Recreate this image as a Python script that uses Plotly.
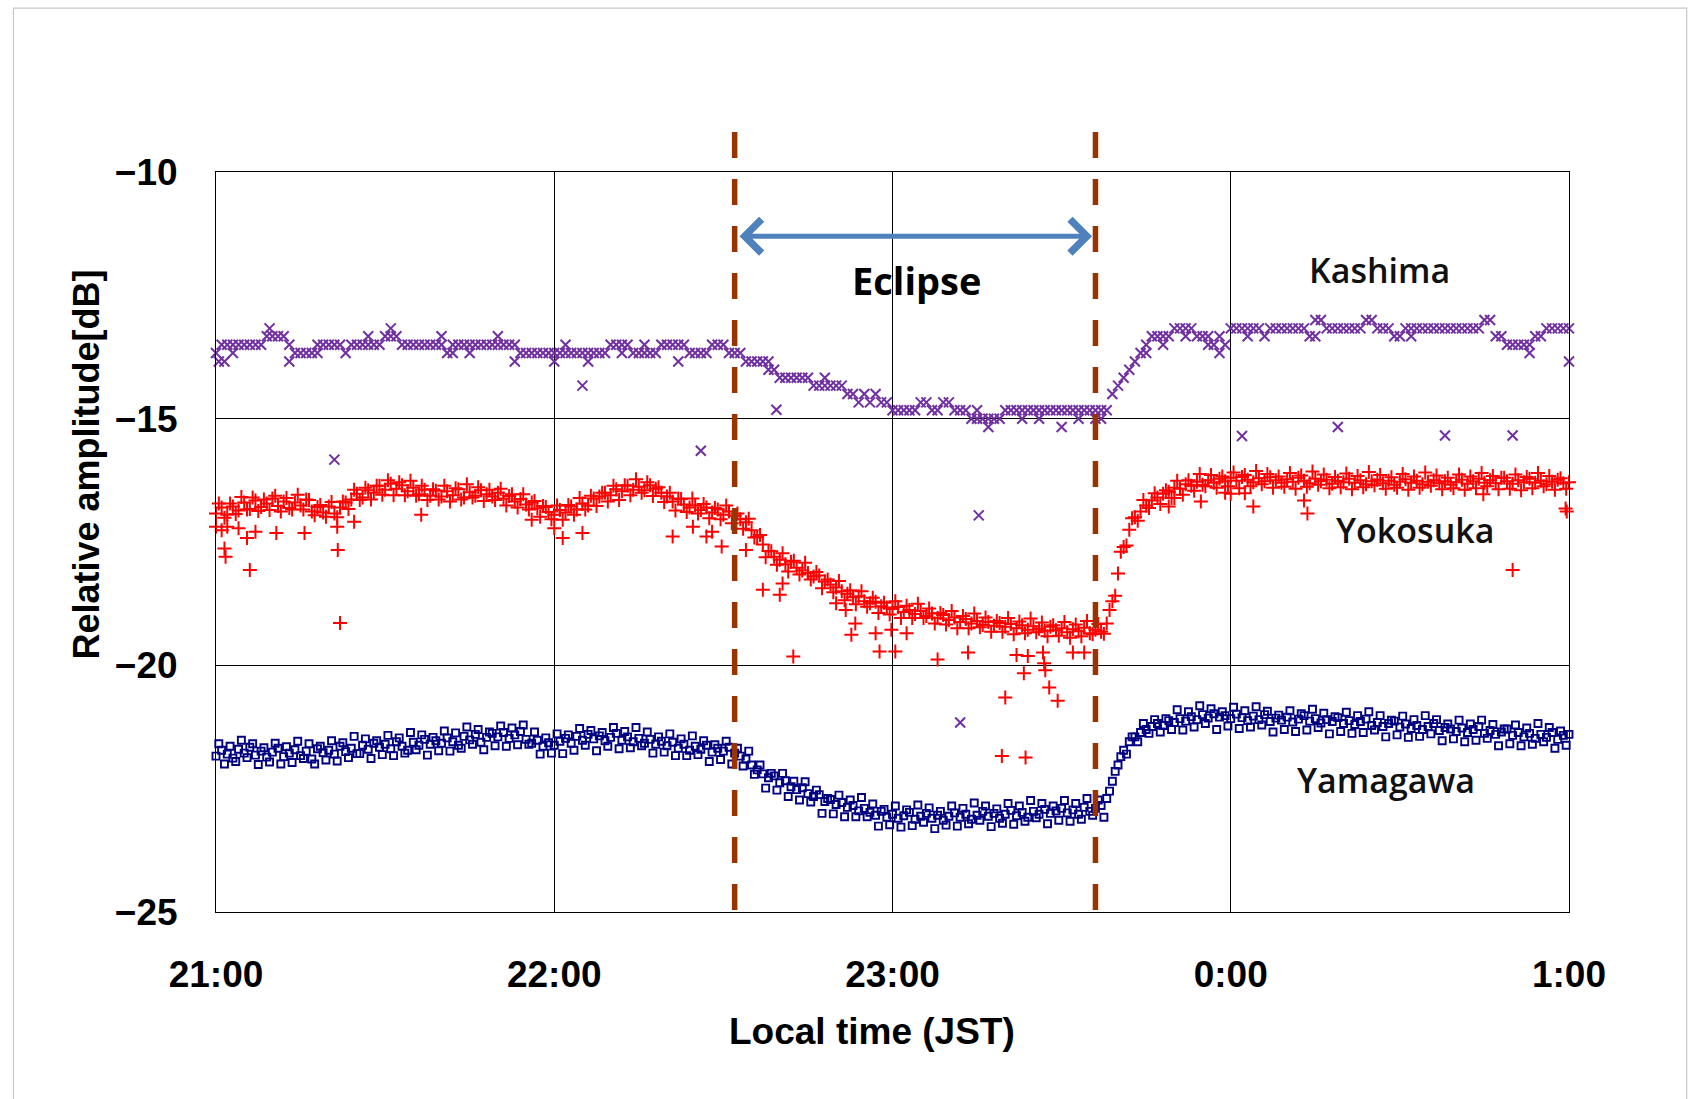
import plotly.graph_objects as go

# ---------------- data (minutes after 21:00 JST, relative amplitude dB) ----------------
minutes = list(range(0, 241))
half_minutes = [m + 0.5 for m in range(0, 240)]

kashima = [
    -13.67, -13.50, -13.50, -13.50, -13.50, -13.50, -13.50, -13.50, -13.50, -13.33,
    -13.33, -13.33, -13.33, -13.50, -13.67, -13.67, -13.67, -13.67, -13.67, -13.50,
    -13.50, -13.50, -13.50, -13.67, -13.50, -13.50, -13.50, -13.50, -13.50, -13.50,
    -13.33, -13.33, -13.33, -13.50, -13.50, -13.50, -13.50, -13.50, -13.50, -13.50,
    -13.50, -13.67, -13.50, -13.50, -13.50, -13.50, -13.50, -13.50, -13.50, -13.50,
    -13.50, -13.50, -13.50, -13.50, -13.67, -13.67, -13.67, -13.67, -13.67, -13.67,
    -13.67, -13.67, -13.67, -13.67, -13.67, -13.67, -13.67, -13.67, -13.67, -13.67,
    -13.50, -13.50, -13.50, -13.50, -13.67, -13.67, -13.67, -13.67, -13.67, -13.50,
    -13.50, -13.50, -13.50, -13.50, -13.67, -13.67, -13.67, -13.67, -13.50, -13.50,
    -13.50, -13.67, -13.67, -13.67, -13.84, -13.84, -13.84, -13.84, -13.84, -14.01,
    -14.17, -14.17, -14.17, -14.17, -14.17, -14.17, -14.33, -14.33, -14.33, -14.33,
    -14.33, -14.33, -14.50, -14.50, -14.67, -14.50, -14.67, -14.50, -14.67, -14.67,
    -14.83, -14.83, -14.83, -14.83, -14.83, -14.67, -14.67, -14.83, -14.83, -14.67,
    -14.67, -14.83, -14.83, -14.83, -15.00, -15.00, -15.00, -15.00, -15.00, -15.00,
    -14.83, -14.83, -14.83, -14.83, -14.83, -14.83, -14.83, -14.83, -14.83, -14.83,
    -14.83, -14.83, -14.83, -14.83, -14.83, -14.83, -14.83, -14.83, -14.83, -14.50,
    -14.33, -14.17, -14.01, -13.84, -13.67, -13.50, -13.33, -13.33, -13.33, -13.33,
    -13.17, -13.17, -13.17, -13.17, -13.33, -13.33, -13.33, -13.50, -13.33, -13.50,
    -13.17, -13.17, -13.17, -13.17, -13.17, -13.17, -13.33, -13.17, -13.17, -13.17,
    -13.17, -13.17, -13.17, -13.17, -13.33, -13.00, -13.00, -13.17, -13.17, -13.17,
    -13.17, -13.17, -13.17, -13.17, -13.00, -13.00, -13.17, -13.17, -13.17, -13.33,
    -13.33, -13.17, -13.17, -13.17, -13.17, -13.17, -13.17, -13.17, -13.17, -13.17,
    -13.17, -13.17, -13.17, -13.17, -13.17, -13.00, -13.00, -13.33, -13.33, -13.50,
    -13.50, -13.50, -13.50, -13.50, -13.33, -13.33, -13.17, -13.17, -13.17, -13.17,
    -13.17,
]
kashima_extra_t = [0.5, 1.5, 3, 9.5, 13, 18, 27, 31, 40, 42, 45, 50, 53, 60, 62, 66, 72, 76, 82,
                   98, 108, 135, 137, 143, 146, 150, 153, 156, 157, 165, 168, 172, 176, 178, 183,
                   195, 212, 233,
                   21, 65, 86, 99.4, 135.3, 182, 199, 218, 230, 132, 240]
kashima_extra_v = [-13.84, -13.84, -13.67, -13.17, -13.84, -13.50, -13.33, -13.17, -13.33, -13.67,
                   -13.67, -13.33, -13.84, -13.84, -13.50, -13.84, -13.67, -13.50, -13.84,
                   -14.01, -14.17, -14.83, -15.17, -15.00, -15.00, -15.17, -15.00, -15.00, -15.00,
                   -13.67, -13.50, -13.33, -13.50, -13.67, -13.33,
                   -13.33, -13.33, -13.67,
                   -15.83, -14.33, -15.65, -14.82, -16.96, -15.35, -15.17, -15.34, -15.34, -21.16, -13.84]

yokosuka = [
    -16.92, -16.80, -16.95, -16.78, -16.86, -16.70, -16.83, -16.66, -16.79, -16.72,
    -16.62, -16.77, -16.68, -16.81, -16.70, -16.76, -16.64, -16.88, -16.79, -16.90,
    -16.78, -16.92, -16.80, -16.70, -16.64, -16.52, -16.60, -16.45, -16.50, -16.36,
    -16.44, -16.32, -16.42, -16.35, -16.47, -16.40, -16.53, -16.44, -16.56, -16.46,
    -16.58, -16.47, -16.55, -16.43, -16.60, -16.49, -16.56, -16.45, -16.53, -16.58,
    -16.50, -16.62, -16.57, -16.68, -16.63, -16.74, -16.70, -16.82, -16.77, -16.89,
    -16.95, -16.85, -16.90, -16.78, -16.84, -16.72, -16.76, -16.62, -16.58, -16.50,
    -16.55, -16.43, -16.47, -16.36, -16.44, -16.38, -16.45, -16.35, -16.42, -16.50,
    -16.58, -16.68, -16.62, -16.74, -16.80, -16.76, -16.85, -16.80, -16.90, -16.84,
    -16.95, -16.88, -16.97, -17.04, -17.10, -17.26, -17.40, -17.55, -17.68, -17.80,
    -17.86, -17.95, -17.90, -18.02, -18.08, -18.13, -18.20, -18.18, -18.30, -18.36,
    -18.42, -18.50, -18.55, -18.62, -18.60, -18.70, -18.74, -18.71, -18.80, -18.83,
    -18.86, -18.82, -18.92, -18.88, -18.96, -18.90, -19.00, -18.95, -19.04, -18.98,
    -19.08, -19.03, -19.12, -19.06, -19.15, -19.10, -19.18, -19.12, -19.20, -19.14,
    -19.22, -19.16, -19.25, -19.19, -19.28, -19.21, -19.26, -19.30, -19.22, -19.29,
    -19.25, -19.33, -19.27, -19.31, -19.24, -19.35, -19.28, -19.32, -19.15, -18.70,
    -18.14, -17.60, -17.25, -17.00, -16.88, -16.76, -16.66, -16.60, -16.52, -16.48,
    -16.40, -16.42, -16.33, -16.36, -16.28, -16.34, -16.25, -16.30, -16.22, -16.27,
    -16.20, -16.26, -16.18, -16.24, -16.29, -16.21, -16.27, -16.19, -16.25, -16.30,
    -16.23, -16.28, -16.20, -16.26, -16.31, -16.22, -16.27, -16.24, -16.32, -16.26,
    -16.29, -16.22, -16.30, -16.25, -16.33, -16.27, -16.24, -16.31, -16.26, -16.34,
    -16.28, -16.23, -16.30, -16.26, -16.33, -16.28, -16.25, -16.31, -16.27, -16.34,
    -16.29, -16.24, -16.32, -16.27, -16.22, -16.30, -16.25, -16.31, -16.20, -16.27,
    -16.32, -16.25, -16.29, -16.22, -16.30, -16.26, -16.33, -16.28, -16.24, -16.31,
    -16.29,
]
# readings taken half a minute later (spread of the band)
yokosuka_half = [
    -16.72, -17.01, -16.72, -16.93, -16.59, -16.84, -16.60, -16.87, -16.64, -16.85,
    -16.56, -16.88, -16.61, -16.84, -16.54, -16.84, -16.65, -16.96, -16.75, -16.99,
    -16.69, -17.00, -16.68, -16.83, -16.44, -16.65, -16.40, -16.64, -16.36, -16.54,
    -16.25, -16.55, -16.29, -16.55, -16.26, -16.56, -16.36, -16.65, -16.43, -16.64,
    -16.36, -16.68, -16.41, -16.64, -16.33, -16.60, -16.39, -16.67, -16.44, -16.65,
    -16.42, -16.76, -16.53, -16.80, -16.53, -16.84, -16.67, -16.99, -16.79, -17.04,
    -16.76, -17.05, -16.75, -16.95, -16.61, -16.84, -16.56, -16.77, -16.50, -16.68,
    -16.36, -16.65, -16.35, -16.55, -16.23, -16.50, -16.29, -16.57, -16.39, -16.69,
    -16.50, -16.86, -16.63, -16.89, -16.62, -16.92, -16.73, -17.02, -16.81, -17.04,
    -16.76, -17.12, -16.92, -17.23, -17.03, -17.41, -17.36, -17.81, -17.69, -17.96,
    -17.73, -18.10, -17.88, -18.16, -17.92, -18.26, -18.11, -18.44, -18.26, -18.52,
    -18.29, -18.68, -18.48, -18.76, -18.50, -18.81, -18.63, -18.94, -18.73, -18.97,
    -18.70, -19.04, -18.79, -19.04, -18.75, -19.04, -18.85, -19.15, -18.94, -19.17,
    -18.90, -19.25, -19.00, -19.25, -18.95, -19.23, -19.03, -19.32, -19.10, -19.32,
    -19.04, -19.37, -19.11, -19.35, -19.05, -19.33, -19.13, -19.41, -19.19, -19.40,
    -19.12, -19.44, -19.17, -19.41, -19.10, -19.37, -19.16, -19.36, -18.88, -18.59,
    -17.70, -17.57, -17.02, -17.07, -16.65, -16.81, -16.51, -16.73, -16.45, -16.61,
    -16.26, -16.54, -16.25, -16.46, -16.12, -16.37, -16.14, -16.40, -16.17, -16.37,
    -16.09, -16.41, -16.14, -16.37, -16.06, -16.33, -16.12, -16.40, -16.17, -16.38,
    -16.10, -16.42, -16.15, -16.38, -16.07, -16.34, -16.13, -16.41, -16.18, -16.39,
    -16.11, -16.43, -16.16, -16.39, -16.08, -16.35, -16.14, -16.42, -16.19, -16.40,
    -16.12, -16.44, -16.17, -16.40, -16.09, -16.36, -16.15, -16.43, -16.20, -16.41,
    -16.13, -16.44, -16.17, -16.41, -16.10, -16.37, -16.16, -16.43, -16.20, -16.42,
    -16.13, -16.45, -16.18, -16.41, -16.10, -16.37, -16.16, -16.44, -16.21, -16.42,
]
yokosuka_extra_t = [0, 1, 1.5, 1.7, 2, 4, 5.5, 6, 7, 10.7, 15.7, 21.5, 21.6, 22, 24.5, 36.4, 56,
                    60, 61.5, 65, 81, 84.6, 87, 88, 89.7, 94, 97, 100, 100.5, 102.4, 110, 111.7,
                    112.7, 113.4, 117, 117.7, 119.8, 120.5, 122.5, 128, 133.4, 139.4, 140, 142,
                    143.3, 143.6, 144, 146.7, 146.9, 147.1, 147.8, 149.3, 152, 154,
                    169, 170, 174.7, 179, 180, 182.5, 184, 193, 193.6, 224.8, 230, 239.4, 239.6]
yokosuka_extra_v = [-17.19, -17.26, -17.63, -17.80, -17.19, -17.22, -17.42, -18.07, -17.29, -17.32,
                    -17.32, -17.19, -17.66, -19.14, -17.09, -16.95, -17.05,
                    -17.22, -17.42, -17.32, -17.39, -17.19, -17.39, -17.29, -17.59, -17.66, -18.47,
                    -18.57, -18.34, -19.82, -18.74, -18.88,
                    -19.38, -19.15, -19.35, -19.72, -19.28, -19.72, -19.35, -19.88, -19.74, -21.84,
                    -20.65, -19.79, -20.16, -21.87, -19.81, -19.74, -19.96, -20.10, -20.45, -20.72,
                    -19.74, -19.74,
                    -16.78, -16.61, -16.68, -16.50, -16.52, -16.51, -16.78, -16.66, -16.92, -16.53,
                    -18.07, -16.82, -16.88]

yamagawa = [
    -21.84, -21.72, -21.80, -21.88, -21.70, -21.78, -21.66, -21.82, -21.74, -21.86,
    -21.76, -21.68, -21.85, -21.78, -21.71, -21.83, -21.74, -21.90, -21.69, -21.77,
    -21.72, -21.80, -21.64, -21.75, -21.68, -21.79, -21.62, -21.70, -21.58, -21.66,
    -21.60, -21.69, -21.55, -21.64, -21.72, -21.56, -21.62, -21.50, -21.60, -21.53,
    -21.58, -21.47, -21.55, -21.62, -21.44, -21.51, -21.40, -21.56, -21.46, -21.38,
    -21.45, -21.36, -21.48, -21.41, -21.34, -21.50, -21.58, -21.52, -21.64, -21.57,
    -21.62, -21.54, -21.48, -21.58, -21.44, -21.52, -21.40, -21.49, -21.43, -21.53,
    -21.46, -21.38, -21.52, -21.45, -21.55, -21.48, -21.58, -21.50, -21.60, -21.54,
    -21.63, -21.56, -21.68, -21.60, -21.72, -21.64, -21.70, -21.62, -21.76, -21.68,
    -21.74, -21.66, -21.78, -21.84, -21.90, -22.02, -22.12, -22.20, -22.28, -22.24,
    -22.38, -22.34, -22.46, -22.52, -22.48, -22.60, -22.66, -22.62, -22.76, -22.72,
    -22.82, -22.78, -22.88, -22.84, -22.95, -22.90, -22.98, -23.04, -22.96, -23.08,
    -23.02, -23.10, -23.05, -22.98, -23.12, -23.06, -23.00, -23.10, -23.04, -23.14,
    -23.06, -22.99, -23.08, -23.02, -23.12, -23.04, -22.96, -23.06, -23.00, -23.10,
    -23.02, -22.94, -23.05, -22.98, -23.08, -22.96, -23.02, -22.92, -23.00, -22.95,
    -22.90, -22.99, -22.93, -23.02, -22.88, -22.96, -22.90, -22.84, -22.70, -22.35,
    -22.02, -21.72, -21.55, -21.45, -21.36, -21.30, -21.24, -21.18, -21.22, -21.12,
    -21.16, -21.08, -21.13, -21.04, -21.10, -21.00, -21.07, -20.98, -21.05, -21.02,
    -21.08, -20.99, -21.06, -21.12, -21.03, -21.10, -21.00, -21.14, -21.07, -21.11,
    -21.05, -21.15, -21.09, -21.02, -21.13, -21.08, -21.17, -21.10, -21.14, -21.06,
    -21.18, -21.12, -21.20, -21.14, -21.09, -21.22, -21.16, -21.24, -21.18, -21.13,
    -21.25, -21.19, -21.28, -21.22, -21.30, -21.24, -21.18, -21.32, -21.26, -21.29,
    -21.34, -21.27, -21.36, -21.30, -21.24, -21.38, -21.32, -21.40, -21.35, -21.29,
    -21.42, -21.36, -21.45, -21.38, -21.48, -21.40, -21.46, -21.36, -21.50, -21.42,
    -21.40,
]
yamagawa_half = [
    -21.59, -22.00, -21.64, -21.95, -21.52, -21.87, -21.59, -22.01, -21.67, -21.96,
    -21.58, -22.00, -21.65, -21.97, -21.54, -21.89, -21.59, -22.00, -21.64, -21.92,
    -21.53, -21.94, -21.57, -21.87, -21.44, -21.79, -21.49, -21.89, -21.53, -21.81,
    -21.42, -21.83, -21.47, -21.78, -21.36, -21.71, -21.41, -21.82, -21.46, -21.73,
    -21.33, -21.74, -21.37, -21.68, -21.25, -21.60, -21.30, -21.71, -21.35, -21.63,
    -21.23, -21.64, -21.27, -21.61, -21.21, -21.60, -21.35, -21.80, -21.47, -21.78,
    -21.39, -21.79, -21.41, -21.72, -21.28, -21.62, -21.32, -21.73, -21.36, -21.64,
    -21.26, -21.69, -21.34, -21.67, -21.26, -21.63, -21.35, -21.78, -21.45, -21.76,
    -21.39, -21.83, -21.49, -21.83, -21.43, -21.81, -21.53, -21.95, -21.61, -21.91,
    -21.54, -22.00, -21.68, -22.04, -21.74, -22.21, -22.02, -22.49, -22.19, -22.53,
    -22.19, -22.66, -22.35, -22.73, -22.36, -22.77, -22.53, -23.00, -22.70, -23.01,
    -22.63, -23.07, -22.73, -23.07, -22.68, -23.07, -22.81, -23.26, -22.92, -23.23,
    -22.85, -23.28, -22.93, -23.25, -22.83, -23.18, -22.89, -23.31, -22.96, -23.24,
    -22.85, -23.26, -22.90, -23.21, -22.79, -23.14, -22.85, -23.27, -22.91, -23.20,
    -22.80, -23.22, -22.85, -23.16, -22.74, -23.09, -22.80, -23.21, -22.85, -23.14,
    -22.74, -23.16, -22.80, -23.12, -22.70, -23.04, -22.73, -23.08, -22.55, -22.15,
    -21.85, -21.80, -21.45, -21.55, -21.18, -21.38, -21.10, -21.35, -21.08, -21.30,
    -20.90, -21.31, -20.94, -21.25, -20.82, -21.18, -20.88, -21.30, -20.94, -21.23,
    -20.85, -21.28, -20.92, -21.25, -20.84, -21.21, -20.93, -21.35, -21.01, -21.30,
    -20.92, -21.34, -20.98, -21.31, -20.89, -21.26, -20.97, -21.39, -21.04, -21.34,
    -20.95, -21.38, -21.02, -21.36, -20.94, -21.31, -21.02, -21.45, -21.11, -21.41,
    -21.03, -21.46, -21.10, -21.44, -21.02, -21.39, -21.10, -21.53, -21.19, -21.49,
    -21.11, -21.55, -21.19, -21.52, -21.11, -21.48, -21.20, -21.63, -21.29, -21.59,
    -21.21, -21.63, -21.27, -21.60, -21.18, -21.55, -21.26, -21.68, -21.33, -21.62,
]

tick_minutes = [0, 60, 120, 180, 240]
tick_labels = ["21:00", "22:00", "23:00", "0:00", "1:00"]
y_ticks = [-25, -20, -15, -10]
y_tick_labels = ["\u221225", "\u221220", "\u221215", "\u221210"]

eclipse_start = 92     # 22:32
eclipse_end = 156      # 23:36
arrow_level = -11.3

labels_text = ["Kashima", "Yokosuka", "Yamagawa"]
labels_t = [206.4, 212.7, 207.5]
labels_v = [-11.99, -17.26, -22.33]

# ---------------- figure ----------------
fig = go.Figure()

fig.add_trace(go.Scatter(
    x=minutes + kashima_extra_t, y=kashima + kashima_extra_v, mode="markers",
    marker=dict(symbol="x-thin-open", size=10, color="#7030a0", line=dict(width=2, color="#7030a0")),
    name="Kashima", showlegend=False, cliponaxis=False))
fig.add_trace(go.Scatter(
    x=minutes + half_minutes + yokosuka_extra_t, y=yokosuka + yokosuka_half + yokosuka_extra_v,
    mode="markers",
    marker=dict(symbol="cross-thin-open", size=10, color="#ff0000", line=dict(width=2, color="#ff0000")),
    name="Yokosuka", showlegend=False, cliponaxis=False))
fig.add_trace(go.Scatter(
    x=minutes + half_minutes, y=yamagawa + yamagawa_half, mode="markers",
    marker=dict(symbol="square-open", size=7, color="#000080", line=dict(width=1.9, color="#000080")),
    name="Yamagawa", showlegend=False, cliponaxis=False))

tickfont = dict(family="Liberation Sans, Arial, sans-serif", size=37, color="black", weight="bold")

fig.update_xaxes(range=[0, 240], tickmode="array", tickvals=tick_minutes, ticktext=tick_labels,
                 showgrid=True, gridcolor="black", gridwidth=1, showline=True, linecolor="black",
                 linewidth=1, mirror=True, zeroline=False, ticks="", tickfont=tickfont,
                 ticklabelstandoff=30)
fig.update_yaxes(range=[-25, -10], tickmode="array", tickvals=y_ticks, ticktext=y_tick_labels,
                 showgrid=True, gridcolor="black", gridwidth=1, showline=True, linecolor="black",
                 linewidth=1, mirror=True, zeroline=False, ticks="", tickfont=tickfont,
                 ticklabelstandoff=30)

shapes = []
for t in (eclipse_start, eclipse_end):
    shapes.append(dict(type="line", xref="x", yref="paper", x0=t, x1=t, y0=1.054, y1=-0.02,
                       line=dict(color="#993300", width=5.5, dash="26px,21px"), layer="above"))
# outer light border of the picture
shapes.append(dict(type="rect", xref="paper", yref="paper", x0=-0.1497, x1=1.0870, y0=-0.30, y1=1.2215,
                   line=dict(color="#c8c8c8", width=1.2), fillcolor="rgba(0,0,0,0)", layer="below"))

annotations = [
    dict(x=eclipse_end - 0.6, y=arrow_level, ax=eclipse_start + 0.6, ay=arrow_level, axref="x", ayref="y",
         xref="x", yref="y", text="", showarrow=True, arrowside="end+start", arrowhead=4,
         arrowsize=1.3, arrowwidth=5, arrowcolor="#4f81bd", standoff=0, startstandoff=0),
    dict(x=(eclipse_start + eclipse_end) / 2 + 0.2, y=-12.19, xref="x", yref="y", text="Eclipse",
         showarrow=False, xanchor="center", yanchor="middle",
         font=dict(family="Open Sans, sans-serif", size=38, color="black", weight="bold")),
    dict(x=-0.0957, y=0.604, xref="paper", yref="paper", text="Relative amplitude[dB]", textangle=-90,
         showarrow=False, xanchor="center", yanchor="middle",
         font=dict(family="Liberation Sans, Arial, sans-serif", size=36, color="black", weight="bold")),
    dict(x=0.485, y=-0.161, xref="paper", yref="paper", text="Local time (JST)",
         showarrow=False, xanchor="center", yanchor="middle",
         font=dict(family="Liberation Sans, Arial, sans-serif", size=37, color="black", weight="bold")),
]
for txt, t, v in zip(labels_text, labels_t, labels_v):
    annotations.append(dict(x=t, y=v, xref="x", yref="y", text=txt, showarrow=False,
                            xanchor="center", yanchor="middle",
                            font=dict(family="Open Sans, sans-serif", size=34, color="#111111",
                                      weight=600)))

fig.update_layout(width=1690, height=1099, margin=dict(l=216, r=121, t=172, b=187),
                  paper_bgcolor="white", plot_bgcolor="white",
                  shapes=shapes, annotations=annotations, showlegend=False)

fig.write_html("out.html", config={"displayModeBar": False},
               post_script="document.body.style.margin='0';document.body.style.overflow='hidden';")
